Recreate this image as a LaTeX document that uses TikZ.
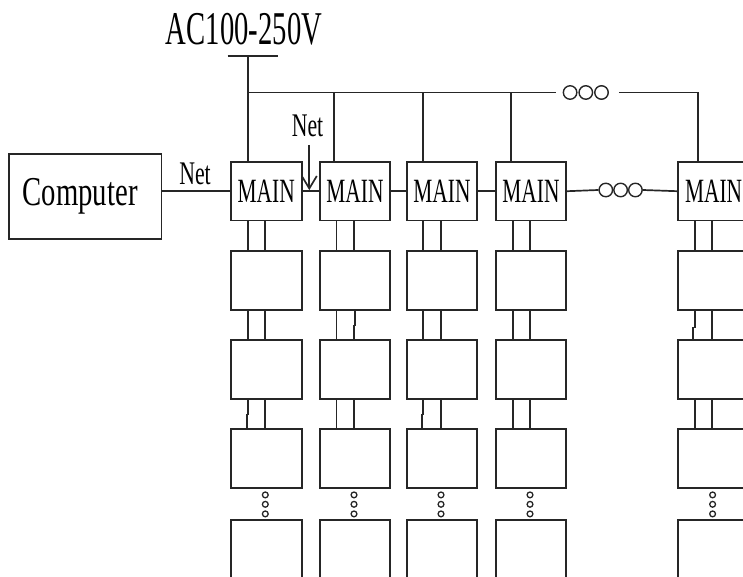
\documentclass[tikz,border=0pt]{standalone}
\usepackage{fontspec}
\usepackage{graphicx}
\setmainfont{Liberation Serif}
\usetikzlibrary{arrows.meta}
\definecolor{lc}{RGB}{38,38,38}
\newcommand{\cond}[3]{\scalebox{#1}[1]{\fontsize{#2}{#2}\selectfont #3}}
\tikzset{
  boxline/.style={draw=lc, line width=1.9pt},
  mainbox/.style={boxline, anchor=north west, minimum width=70.6pt, minimum height=58.5pt, inner sep=0pt, text=black},
  unitbox/.style={boxline, anchor=north west, minimum width=70.6pt, minimum height=59pt, inner sep=0pt},
  link/.style={draw=lc, line width=1.7pt},
  bigdot/.style={circle, draw=lc, line width=1.4pt, minimum size=13.5pt, inner sep=0pt},
  smalldot/.style={circle, draw=lc, line width=1.3pt, minimum size=5.8pt, inner sep=0pt},
  lbl/.style={inner sep=0pt, anchor=base, text=black}
}
\begin{document}
\begin{tikzpicture}[x=1pt, y=-1pt]
\useasboundingbox (0,0) rectangle (743,577);
\clip (0,0) rectangle (743,577);

% texts
\node[lbl] (ac) at (244,44.3) {\cond{0.61}{47}{AC100-250V}};
\node[lbl] (netl) at (195,185) {\cond{0.66}{33}{Net}};
\node[lbl] (netm) at (307.5,136.7) {\cond{0.66}{33}{Net}};

% computer
\node[boxline, anchor=north west, minimum width=152.5pt, minimum height=85pt, inner sep=0pt] (comp) at (8,153) {\hspace*{-10pt}\cond{0.70}{41}{Computer}};

% columns
\foreach \c/\L in {1/230,2/318.7,3/405.7,4/494.7,5/677.3} {
  \node[mainbox] (m\c) at (\L,161) {\cond{0.63}{34}{MAIN}};
  \node[unitbox] (a\c) at (\L,250) {};
  \node[unitbox] (b\c) at (\L,339.3) {};
  \node[unitbox] (c\c) at (\L,427.7) {};
  \node[unitbox, minimum height=75pt] (d\c) at (\L,519.3) {};
  \node[smalldot] (e\c) at ([xshift=35.3pt, yshift=-6.3pt]c\c.south west) {};
  \node[smalldot] (f\c) at ([xshift=35.3pt, yshift=-15.7pt]c\c.south west) {};
  \node[smalldot] (g\c) at ([xshift=35.3pt, yshift=-25.3pt]c\c.south west) {};
}

% double links between stacked boxes (column/upper/lower/offset/jog/jog depth)
\foreach \c/\u/\v/\o/\d/\h in {
  1/m/a/17.7/0/10, 1/m/a/35.3/0/10, 1/a/b/17.7/0/10, 1/a/b/35.3/0/10, 1/b/c/18/-1.3/14.4, 1/b/c/35.3/0/10,
  2/m/a/17.9/0/10, 2/m/a/35.3/0/10, 2/a/b/17.9/0/10, 2/a/b/36.6/-1.6/14.7, 2/b/c/17.9/0/10, 2/b/c/35.3/0/10,
  3/m/a/17.6/0/10, 3/m/a/35/0/10, 3/a/b/17.6/0/10, 3/a/b/35/0/10, 3/b/c/17.6/-1.3/14.4, 3/b/c/35/0/10,
  4/m/a/18/0/10, 4/m/a/35.3/0/10, 4/a/b/18/0/10, 4/a/b/35.3/0/10, 4/b/c/18/0/10, 4/b/c/35.3/0/10,
  5/m/a/17.7/0/10, 5/m/a/34.4/0/10, 5/a/b/17.7/-2.3/16.7, 5/a/b/34.4/0/10, 5/b/c/17.7/0/10, 5/b/c/34.4/0/10} {
  \draw[link] ([xshift={\o*1pt}]\u\c.south west) -- ++(0,\h) -- ++(\d,0) -- ([xshift={(\o+(\d))*1pt}]\v\c.north west);
}

% MAIN chain
\node[bigdot] (q1) at (605.8,190) {};
\node[bigdot] (q2) at (620.6,190) {};
\node[bigdot] (q3) at (635.4,190) {};
\draw[link] (comp.east |- m1.west) -- (m1.west);
\draw[link] (m1.east) -- (m2.west);
\draw[link] (m2.east) -- (m3.west);
\draw[link] (m3.east) -- (m4.west);
\draw[link] (m4.east) -- (q1.west);
\draw[link] (q3.east) -- (m5.west);

% power bus
\coordinate (acL) at (227.5,56);
\coordinate (acR) at (278,56);
\coordinate (acbar) at (247.7,56);
\coordinate (bus) at (247.7,92.5);
\node[bigdot] (p1) at (570.1,92.5) {};
\node[bigdot] (p2) at (585.8,92.5) {};
\node[bigdot] (p3) at (601.5,92.5) {};
\draw[link] (acL) -- (acR);
\draw[link] (acbar) -- (acbar |- m1.north);
\draw[link] (bus) -- ([xshift=-6.3pt]p1.west);
\path ([xshift=15.6pt]m2.north west) coordinate (t2)
      ([xshift=17.6pt]m3.north west) coordinate (t3)
      ([xshift=16pt]m4.north west) coordinate (t4)
      ([xshift=20.4pt]m5.north west) coordinate (t5);
\draw[link] (t2) -- (t2 |- bus);
\draw[link] (t3) -- (t3 |- bus);
\draw[link] (t4) -- (t4 |- bus);
\draw[link] ([xshift=9.8pt]p3.east) -| (t5);

% Net arrow
\coordinate (arrtop) at (309.3,145);
\coordinate (arrtip) at (309.3,188.5);
\draw[link] (arrtop) -- (arrtip);
\draw[link, line join=miter] ([shift={(-7.5,-12.5)}]arrtip) -- (arrtip) -- ([shift={(7.5,-12.5)}]arrtip);
\end{tikzpicture}
\end{document}
